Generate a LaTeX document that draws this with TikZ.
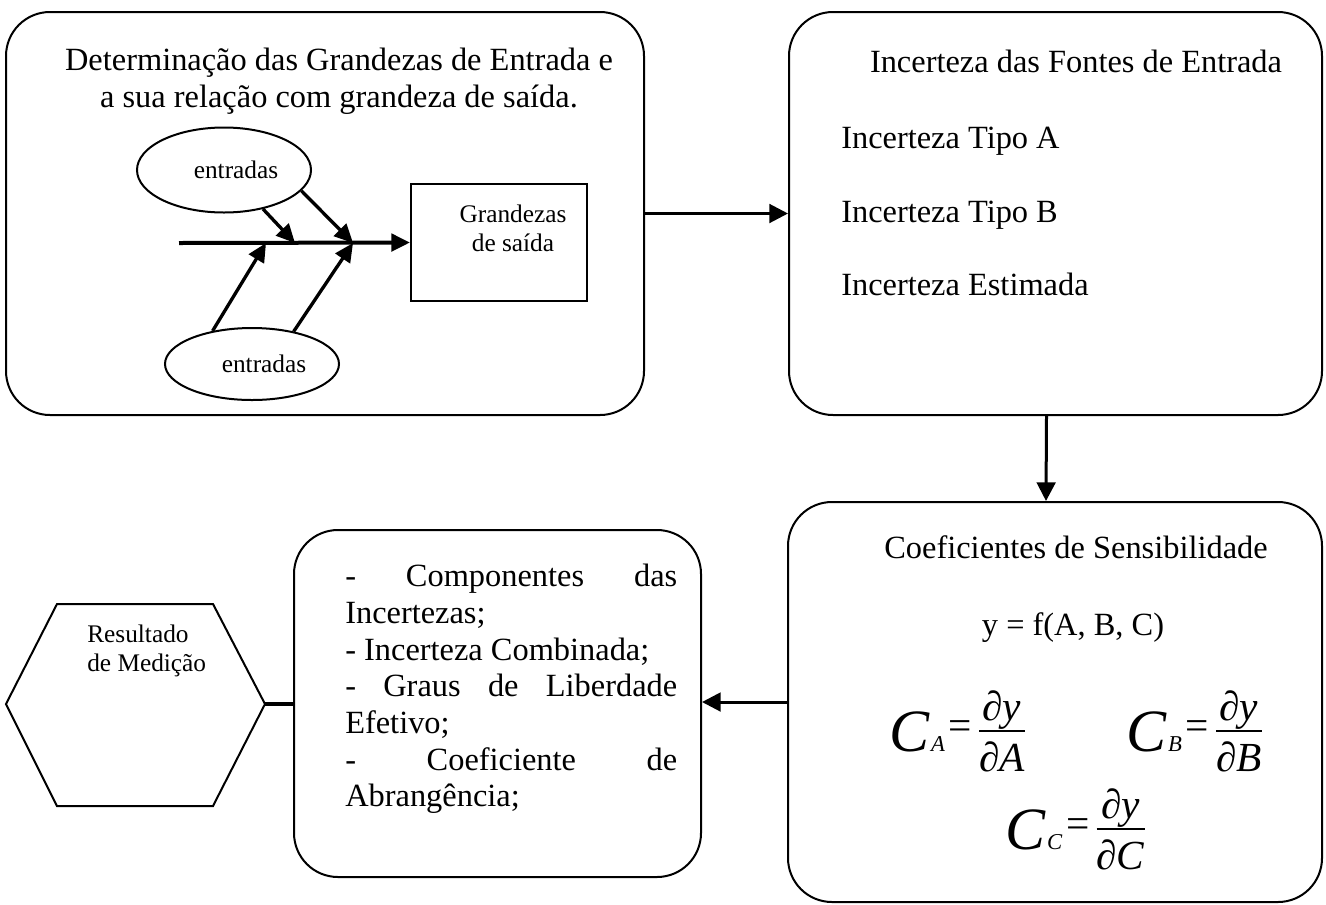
\documentclass[tikz,border=0pt]{standalone}
\usepackage{amsmath}
\usepackage{fontspec}
\setmainfont{Liberation Serif}
\usetikzlibrary{arrows.meta,shapes.geometric}

% derivada parcial e coeficiente de sensibilidade
\newcommand{\dparc}[2]{\ensuremath{\genfrac{}{}{1pt}{1}{\textstyle\text{\itshape #1}}{\textstyle\text{\itshape\rule{0pt}{28.5pt}#2}}}}
\newcommand{\coefsens}[1]{\raisebox{-9.5pt}{\fontsize{45}{45}\selectfont\itshape C}\kern1pt\raisebox{-9.5pt}{\fontsize{17}{17}\selectfont\itshape #1}\kern3pt=\kern4pt\dparc{∂y}{∂#1}}

\tikzset{
	etapa/.style={draw, line width=1.5pt, rounded corners=33pt, inner sep=0pt},
	texto/.style={font=\fontsize{24.3}{27.5}\selectfont, inner sep=0pt},
	textop/.style={font=\fontsize{19}{21.5}\selectfont, inner sep=0pt},
	formula/.style={font=\fontsize{31}{34}\selectfont, inner sep=0pt, anchor=base},
	seta/.style={-{Triangle[length=14pt,width=14pt]}, line width=2.25pt},
	espinha/.style={-{Triangle[length=14pt,width=13pt]}, line width=2.5pt},
}

\begin{document}
\begin{tikzpicture}[x=0.75pt,y=-0.75pt]
	\useasboundingbox (0,0) rectangle (1326,904);
	% etapas
	\node[etapa, minimum width=478.5pt, minimum height=302.25pt] (grandezas) at (325,213.5) {};
	\node[etapa, minimum width=399.75pt, minimum height=302.25pt] (fontes) at (1055.5,213.5) {};
	\node[etapa, minimum width=400.5pt, minimum height=300pt] (coef) at (1055,702) {};
	\node[etapa, minimum width=305.25pt, minimum height=260.25pt] (compon) at (497.5,703.5) {};

	% grandezas de entrada
	\node[texto, align=center, anchor=north] at (339,48) {Determinação das Grandezas de Entrada e\\a sua relação com grandeza de saída.};
	\node[draw, line width=1.5pt, minimum width=132pt, minimum height=87.75pt] (saida) at (499,242.5) {};
	\node[textop, align=center, anchor=north] at (513,205) {Grandezas\\de saída};
	\node[draw, ellipse, line width=1.5pt, minimum width=130.5pt, minimum height=63.75pt, textop] (entA) at (224,170) {\hspace*{18pt}entradas};
	\node[draw, ellipse, line width=1.5pt, minimum width=130.5pt, minimum height=54pt, textop] (entB) at (252,364) {\hspace*{18pt}entradas};

	\coordinate (eixo) at (179,243);
	\coordinate (j1) at (295,243);
	\coordinate (j2) at (353,243);
	\coordinate (j3) at (266,243);
	\draw[espinha, line width=3pt] (eixo) -- (saida.west);
	\draw[espinha] (entA.-45) -- (j1);
	\draw[espinha] (entA.-15) -- (j2);
	\draw[espinha] (entB.140) -- (j3);
	\draw[espinha] (entB.38) -- (j2);

	% fontes de entrada
	\node[texto, anchor=base] at (1076,72) {Incerteza das Fontes de Entrada};
	\node[texto, anchor=base west] (tipoA) at (841,148) {Incerteza Tipo A};
	\node[texto, anchor=base west] (tipoB) at (841,222) {Incerteza Tipo B};
	\node[texto, anchor=base west] (estim) at (841,295) {Incerteza Estimada};

	% coeficientes
	\node[texto, anchor=base] at (1076,558) {Coeficientes de Sensibilidade};
	\node[texto, anchor=base] at (1073,635) {y = f(A, B, C)};
	\node[formula] (cA) at (958,739.3) {\coefsens{A}};
	\node[formula] (cB) at (1195,739.3) {\coefsens{B}};
	\node[formula] (cC) at (1076,837.3) {\coefsens{C}};

	% componentes
	\node[texto, anchor=north west, text width=249pt, align=justify] (lista) at (345,564) {\hyphenpenalty=10000 \parindent=0pt
		- Componentes das Incertezas;\par
		- Incerteza Combinada;\par
		- Graus de Liberdade Efetivo;\par
		- Coeficiente de Abrangência;};

	% resultado
	\coordinate (resR) at (265,704);
	\draw[line width=1.5pt] (57,604) -- (213,604) -- (resR) -- (213,806) -- (57,806) -- (6,704) -- cycle;
	\node[textop, align=left, anchor=north west] (result) at (87,625) {Resultado\\de Medição};

	% ligacoes
	\draw[seta] (grandezas.east) -- (fontes.west);
	\draw[seta] ([xshift=-6.75pt]fontes.south) -- ([xshift=-6.75pt]coef.north);
	\draw[seta] (coef.west) -- (coef.west -| compon.east);
	\draw[line width=3pt] (resR) -- (resR -| compon.west);
\end{tikzpicture}
\end{document}
